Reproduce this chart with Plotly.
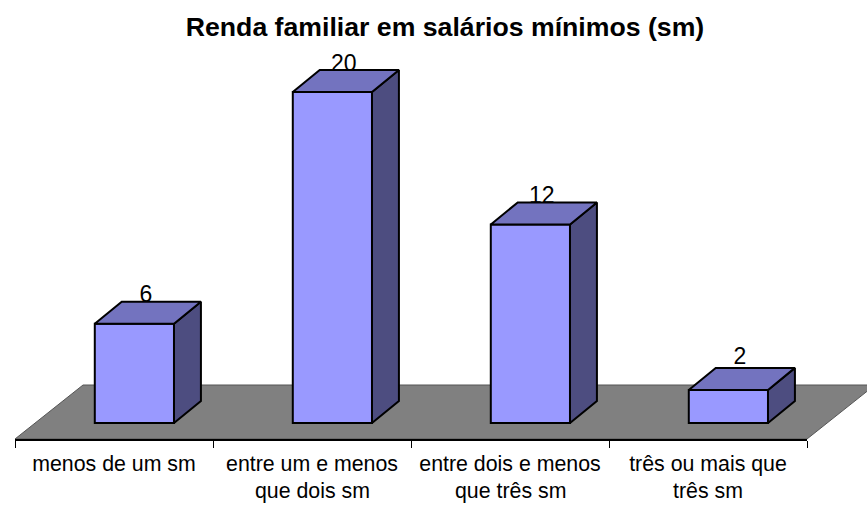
"""3D-look column chart: family income in minimum wages."""
import plotly.graph_objects as go

categories_line1 = ["menos de um sm", "entre um e menos", "entre dois e menos", "três ou mais que"]
categories_line2 = ["", "que dois sm", "que três sm", "três sm"]
values = [6, 20, 12, 2]
title_text = "Renda familiar em salários mínimos (sm)"

WIDTH, HEIGHT = 867, 505
AXIS_LEFT, AXIS_RIGHT, AXIS_Y = 15, 807, 439
Y_TOP_VALUE = 25.56
Y_BOTTOM_VALUE = -0.967

BAR_OFFSET = 0.603
BAR_WIDTH = 0.4
DEPTH_X = 0.136
DEPTH_Y = 1.33

FRONT = "#9999FF"
TOP = "#7373BF"
SIDE = "#4D4D80"
FLOOR = "#808080"
FONT = "Liberation Sans"


def paper_x(px):
    return px / WIDTH


def paper_y(py):
    return 1 - py / HEIGHT


fig = go.Figure()

positions = [i + BAR_OFFSET for i in range(len(values))]

# front faces
fig.add_trace(go.Bar(
    x=positions,
    y=values,
    width=BAR_WIDTH,
    marker=dict(color=FRONT, line=dict(color="black", width=2)),
    hoverinfo="skip",
))

# side and top faces follow from each value plus the depth offset
for pos, val in zip(positions, values):
    left, right = pos - BAR_WIDTH / 2, pos + BAR_WIDTH / 2
    fig.add_trace(go.Scatter(
        x=[right, right + DEPTH_X, right + DEPTH_X, right, right],
        y=[0, DEPTH_Y, val + DEPTH_Y, val, 0],
        mode="lines", fill="toself", fillcolor=SIDE,
        line=dict(color="black", width=2), hoverinfo="skip",
    ))
    fig.add_trace(go.Scatter(
        x=[left, left + DEPTH_X, right + DEPTH_X, right, left],
        y=[val, val + DEPTH_Y, val + DEPTH_Y, val, val],
        mode="lines", fill="toself", fillcolor=TOP,
        line=dict(color="black", width=2), hoverinfo="skip",
    ))

# value labels sit on the back edge of the top face,
# the shortest bar's label clears it
fig.add_trace(go.Scatter(
    x=[p + DEPTH_X / 2 - 0.01 for p in positions],
    y=[v + DEPTH_Y - 0.38 + (0.25 if v == min(values) else 0) for v in values],
    text=[str(v) for v in values],
    mode="text",
    textposition="top center",
    textfont=dict(family=FONT, size=23, color="black"),
    cliponaxis=False,
    hoverinfo="skip",
))

# second line of the category labels, spaced wider than a plain <br> gives
for i, line in enumerate(categories_line2):
    if line:
        fig.add_annotation(
            x=i + 0.5, y=paper_y(491), xref="x", yref="paper",
            text=line, showarrow=False, xanchor="center", yanchor="middle",
            font=dict(family=FONT, size=21.33, color="black"),
        )

# floor, reaches past the plot area on the right
fig.add_shape(
    type="path",
    xref="paper", yref="paper",
    path=(
        f"M {paper_x(AXIS_LEFT)} {paper_y(AXIS_Y)} "
        f"L {paper_x(AXIS_RIGHT)} {paper_y(AXIS_Y)} "
        f"L {paper_x(875)} {paper_y(385)} "
        f"L {paper_x(83)} {paper_y(385)} Z"
    ),
    fillcolor=FLOOR,
    line=dict(color="#555555", width=1),
    layer="below",
)

fig.update_layout(
    width=WIDTH,
    height=HEIGHT,
    margin=dict(l=0, r=0, t=0, b=0),
    paper_bgcolor="white",
    plot_bgcolor="rgba(0,0,0,0)",
    showlegend=False,
    title=dict(
        text=f"<b>{title_text}</b>",
        x=445 / WIDTH, xanchor="center",
        y=paper_y(27), yanchor="middle",
        font=dict(family=FONT, size=26.67, color="black"),
    ),
    xaxis=dict(
        domain=[paper_x(AXIS_LEFT), paper_x(AXIS_RIGHT)],
        range=[0, len(values)],
        showgrid=False,
        zeroline=False,
        showline=True,
        linecolor="black",
        linewidth=1.5,
        tickmode="array",
        tickvals=[i + 0.5 for i in range(len(values))],
        ticktext=categories_line1,
        ticks="",
        ticklabelstandoff=5,
        tickfont=dict(family=FONT, size=21.33, color="black"),
        minor=dict(
            tickmode="array",
            tickvals=list(range(len(values) + 1)),
            ticks="outside",
            ticklen=7,
            tickcolor="black",
            tickwidth=1,
            showgrid=False,
        ),
    ),
    yaxis=dict(
        domain=[paper_y(AXIS_Y), 1],
        range=[Y_BOTTOM_VALUE, Y_TOP_VALUE],
        visible=False,
    ),
)

# the page's default body margin would push the figure 8px in
fig.write_html(
    "out.html",
    config=dict(displayModeBar=False),
    post_script="document.body.style.margin='0';",
)
